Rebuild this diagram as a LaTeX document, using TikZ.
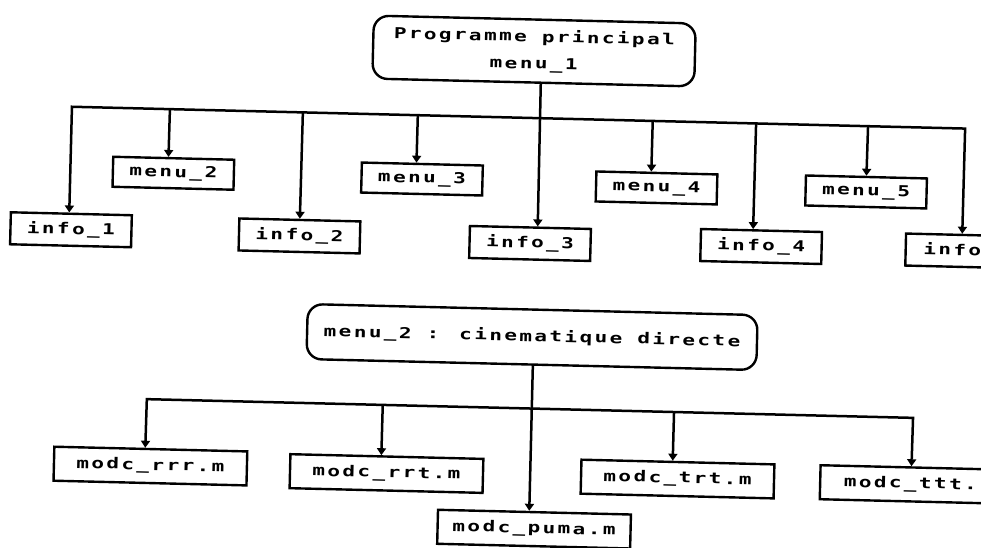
\documentclass[tikz,border=0pt]{standalone}
\usepackage{fontspec}
\newfontfamily\dotfont[LetterSpace=16,FakeStretch=1.4,BoldFont={DejaVu Sans Mono Bold}]{DejaVu Sans Mono}
\usetikzlibrary{arrows.meta}
\begin{document}
\begin{tikzpicture}[x=1pt,y=-1pt,
  ln/.style={line width=2.5pt, line join=miter},
  arr/.style={ln,-{Triangle[length=7pt,width=9pt]}},
  bx/.style={draw,line width=2.4pt,inner sep=0pt,align=center,
     font=\dotfont\bfseries\fontsize{15}{27}\selectfont},
  smallbx/.style={bx,minimum width=121pt},
  infobx/.style={smallbx,minimum height=32pt},
  menubx/.style={smallbx,minimum height=30pt},
  modbx/.style={bx,minimum width=193pt,minimum height=34pt},
  rbox/.style={bx,rounded corners=15pt}]
\useasboundingbox (0,0) rectangle (981,547);
\clip (0,0) rectangle (981,547);
\begin{scope}[rotate around={-1.4:(490,273)},transform shape]
  % ---- top tree ----
  \node[rbox,minimum width=322pt,minimum height=63pt] (top) at (528.6,50) {Programme principal\\menu\_1};
  \node[infobx] (info1) at (70,240)    {info\_1};
  \node[menubx] (menu2) at (171,181)   {menu\_2};
  \node[infobx] (info2) at (298.6,240.6) {info\_2};
  \node[menubx] (menu3) at (419.7,180.7) {menu\_3};
  \node[infobx] (info3) at (529.3,242.5) {info\_3};
  \node[menubx] (menu4) at (654.4,183.9) {menu\_4};
  \node[infobx] (info4) at (760.4,239.9) {info\_4};
  \node[menubx] (menu5) at (864,182.8)   {menu\_5};
  \node[infobx] (info5) at (965.5,239.4) {info\phantom{\_5}};
  \coordinate (b1) at (68,117);
  \coordinate (b2) at (166,117);
  \coordinate (b3) at (299,117);
  \coordinate (b4) at (414,117);
  \coordinate (b5) at (536,117);
  \coordinate (b6) at (649,117);
  \coordinate (b7) at (752.4,117);
  \coordinate (b8) at (864.4,117);
  \coordinate (b9) at (961.5,117);
  \draw[arr] (top.283.2) -- (info3.67.3);
  \draw[arr] (b5) -- (b1) -- (info1.97.1);
  \draw[arr] (b5) -- (b9) -- (info5.104);
  \draw[arr] (b2) -- (menu2.108.4);
  \draw[arr] (b3) -- (info2.north);
  \draw[arr] (b4) -- (menu3.110.8);
  \draw[arr] (b6) -- (menu4.109.8);
  \draw[arr] (b7) -- (info4.116.6);
  \draw[arr] (b8) -- (menu5.north);
  % ---- bottom tree ----
  \node[rbox,minimum width=450pt,minimum height=55pt] (title2) at (533.6,336) {menu\_2 : cinematique directe};
  \node[modbx] (rrr)  at (155.2,474.3) {modc\_rrr.m};
  \node[modbx] (rrt)  at (391.4,476)   {modc\_rrt.m};
  \node[modbx] (puma) at (540.3,528)   {modc\_puma.m};
  \node[modbx] (trt)  at (682.5,474.4) {modc\_trt.m};
  \node[modbx] (ttt)  at (921.7,474.1) {modc\_ttt.\phantom{m}};
  \coordinate (c1) at (150,407.5);
  \coordinate (c2) at (386,407.5);
  \coordinate (c3) at (535.2,407.5);
  \coordinate (c4) at (677.4,407.5);
  \coordinate (c5) at (916.5,407.5);
  \draw[arr] (title2.273.3) -- (puma.106.7);
  \draw[arr] (c3) -- (c1) -- (rrr.107);
  \draw[arr] (c3) -- (c5) -- (ttt.107);
  \draw[arr] (c2) -- (rrt.107.6);
  \draw[arr] (c4) -- (trt.106.7);
\end{scope}
\end{tikzpicture}
\end{document}
